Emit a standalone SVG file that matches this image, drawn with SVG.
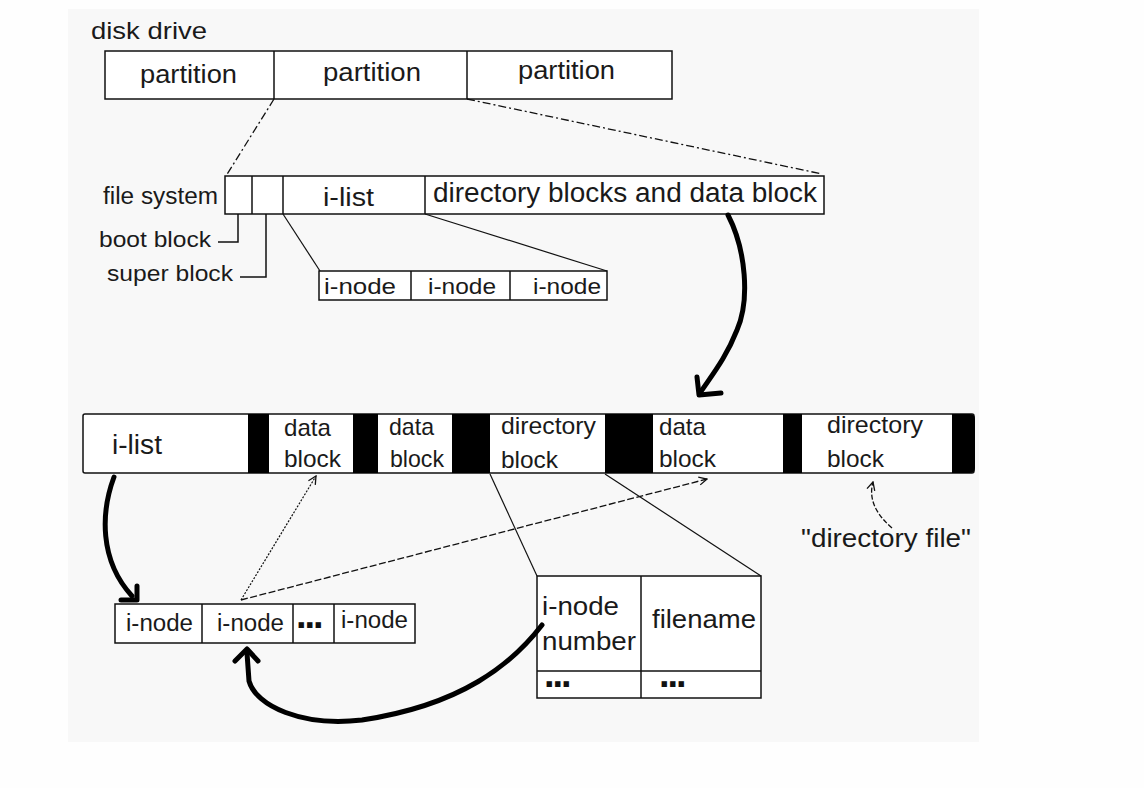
<svg xmlns="http://www.w3.org/2000/svg" width="1144" height="788" viewBox="0 0 1144 788">
<defs>
<style>
.box{fill:#fff;stroke:#111;stroke-width:1.5}
.div{stroke:#111;stroke-width:1.5;fill:none}
.blk{fill:#000;stroke:none}
.t{font-family:"Liberation Sans",Arial,Helvetica,sans-serif;fill:#1a1a1a}
.dots{font-family:"Liberation Sans",Arial,sans-serif;font-weight:bold;font-size:38px;letter-spacing:-2px;fill:#111}
.dash{stroke:#111;stroke-width:1.3;fill:none;stroke-dasharray:8 3 2 3}
.thin{stroke:#111;stroke-width:1.2;fill:none}
.dot{stroke:#111;stroke-width:1.2;fill:none;stroke-dasharray:2 1.5}
.dsh{stroke:#111;stroke-width:1.3;fill:none;stroke-dasharray:7 2.5}
.thick{stroke:#000;stroke-width:5;fill:none;stroke-linecap:round;stroke-linejoin:round}
</style>
<marker id="open" viewBox="0 0 10 10" refX="9" refY="5" markerWidth="10" markerHeight="10" markerUnits="userSpaceOnUse" orient="auto">
<path d="M1,1 L9,5 L1,9" fill="none" stroke="#111" stroke-width="1.3"/>
</marker>
</defs>
<rect x="0" y="0" width="1144" height="788" fill="#fefefe"/>
<rect x="68" y="9" width="911" height="733" fill="#f8f8f8"/>

<g id="disk-drive">
<text class="t" x="91" y="39" font-size="24" textLength="116" lengthAdjust="spacingAndGlyphs">disk drive</text>
<rect class="box" x="105" y="51" width="567" height="48"/>
<line class="div" x1="274" y1="51" x2="274" y2="99"/>
<line class="div" x1="467" y1="51" x2="467" y2="99"/>
<text class="t" x="140" y="83" font-size="25" textLength="97" lengthAdjust="spacingAndGlyphs">partition</text>
<text class="t" x="323" y="81" font-size="25" textLength="98" lengthAdjust="spacingAndGlyphs">partition</text>
<text class="t" x="518" y="79" font-size="25" textLength="97" lengthAdjust="spacingAndGlyphs">partition</text>
</g>

<g id="file-system">
<text class="t" x="103" y="204" font-size="23" textLength="115" lengthAdjust="spacingAndGlyphs">file system</text>
<rect class="box" x="225" y="176" width="599" height="38"/>
<line class="div" x1="252" y1="176" x2="252" y2="214"/>
<line class="div" x1="283" y1="176" x2="283" y2="214"/>
<line class="div" x1="425" y1="176" x2="425" y2="214"/>
<text class="t" x="323" y="206" font-size="25" textLength="51" lengthAdjust="spacingAndGlyphs">i-list</text>
<text class="t" x="433" y="202" font-size="27" textLength="384" lengthAdjust="spacingAndGlyphs">directory blocks and data block</text>
</g>

<g id="boot-block">
<text class="t" x="99" y="247" font-size="22.5" textLength="112" lengthAdjust="spacingAndGlyphs">boot block</text>
</g>
<g id="super-block">
<text class="t" x="107" y="281" font-size="22.5" textLength="126" lengthAdjust="spacingAndGlyphs">super block</text>
</g>

<g id="i-node-list">
<rect class="box" x="319" y="271" width="288" height="29"/>
<line class="div" x1="411" y1="271" x2="411" y2="300"/>
<line class="div" x1="510" y1="271" x2="510" y2="300"/>
<text class="t" x="324" y="294" font-size="22" textLength="72" lengthAdjust="spacingAndGlyphs">i-node</text>
<text class="t" x="428" y="294" font-size="22" textLength="68" lengthAdjust="spacingAndGlyphs">i-node</text>
<text class="t" x="533" y="294" font-size="22" textLength="68" lengthAdjust="spacingAndGlyphs">i-node</text>
</g>

<g id="disk-layout">
<rect x="83" y="414" width="891" height="59" rx="2" fill="#fff" stroke="#111" stroke-width="1.5"/>
<rect class="blk" x="248" y="414" width="21" height="59"/>
<rect class="blk" x="353" y="414" width="25" height="59"/>
<rect class="blk" x="452" y="414" width="38" height="59"/>
<rect class="blk" x="605" y="414" width="48" height="59"/>
<rect class="blk" x="783" y="414" width="19" height="59"/>
<path class="blk" d="M952,414 H970 Q975,414 975,419 V468 Q975,473 970,473 H952 Z"/>
<text class="t" x="112" y="454" font-size="27" textLength="50" lengthAdjust="spacingAndGlyphs">i-list</text>
<text class="t" x="284" y="436" font-size="24" textLength="47" lengthAdjust="spacingAndGlyphs">data</text>
<text class="t" x="284" y="467" font-size="24" textLength="57" lengthAdjust="spacingAndGlyphs">block</text>
<text class="t" x="389" y="435" font-size="24" textLength="45" lengthAdjust="spacingAndGlyphs">data</text>
<text class="t" x="390" y="467" font-size="24" textLength="54" lengthAdjust="spacingAndGlyphs">block</text>
<text class="t" x="501" y="434" font-size="24" textLength="95" lengthAdjust="spacingAndGlyphs">directory</text>
<text class="t" x="501" y="468" font-size="24" textLength="57" lengthAdjust="spacingAndGlyphs">block</text>
<text class="t" x="659" y="435" font-size="24" textLength="47" lengthAdjust="spacingAndGlyphs">data</text>
<text class="t" x="659" y="467" font-size="24" textLength="57" lengthAdjust="spacingAndGlyphs">block</text>
<text class="t" x="827" y="433" font-size="24" textLength="96" lengthAdjust="spacingAndGlyphs">directory</text>
<text class="t" x="827" y="467" font-size="24" textLength="57" lengthAdjust="spacingAndGlyphs">block</text>
</g>

<g id="directory-file-label">
<text class="t" x="801" y="547" font-size="25" textLength="170" lengthAdjust="spacingAndGlyphs">"directory file"</text>
</g>

<g id="i-node-table">
<rect class="box" x="115" y="604" width="300" height="39"/>
<line class="div" x1="202" y1="604" x2="202" y2="643"/>
<line class="div" x1="293" y1="604" x2="293" y2="643"/>
<line class="div" x1="334" y1="604" x2="334" y2="643"/>
<text class="t" x="126" y="631" font-size="23" textLength="67" lengthAdjust="spacingAndGlyphs">i-node</text>
<text class="t" x="217" y="631" font-size="23" textLength="67" lengthAdjust="spacingAndGlyphs">i-node</text>
<text class="dots" x="296" y="628">...</text>
<text class="t" x="341" y="628" font-size="23" textLength="67" lengthAdjust="spacingAndGlyphs">i-node</text>
</g>

<g id="directory-entry">
<rect class="box" x="537" y="576" width="224" height="122"/>
<line class="div" x1="641" y1="576" x2="641" y2="698"/>
<line class="div" x1="537" y1="671" x2="761" y2="671"/>
<text class="t" x="542" y="615" font-size="25" textLength="77" lengthAdjust="spacingAndGlyphs">i-node</text>
<text class="t" x="542" y="650" font-size="25" textLength="94" lengthAdjust="spacingAndGlyphs">number</text>
<text class="t" x="652" y="628" font-size="25" textLength="104" lengthAdjust="spacingAndGlyphs">filename</text>
<text class="dots" x="544" y="687">...</text>
<text class="dots" x="659" y="687">...</text>
</g>

<g id="connectors">
<line class="dash" x1="274" y1="99" x2="226" y2="176"/>
<line class="dash" x1="467" y1="99" x2="822" y2="174"/>
<path class="div" d="M218,242 H238 V214"/>
<path class="div" d="M240,277 H266 V214"/>
<line class="thin" x1="283" y1="214" x2="320" y2="271"/>
<line class="thin" x1="425" y1="214" x2="607" y2="271"/>
<path class="thick" d="M728,215 C746,250 750,300 737,330 C726,358 712,375 700,393"/>
<path class="thick" d="M697,377 L699,395 L721,393"/>
<path class="thick" d="M114,477 C101,512 99,560 132,596"/>
<path class="thick" d="M137,586 L137,600 L121,600"/>
<path class="thick" d="M542,625 C512,664 462,705 362,720 C302,727 256,706 249,681 L247,653"/>
<path class="thick" d="M235,661 L247,649 L258,661"/>
<line class="dot" x1="241" y1="600" x2="316" y2="476" marker-end="url(#open)"/>
<line class="dsh" x1="241" y1="600" x2="707" y2="479" marker-end="url(#open)"/>
<line class="thin" x1="490" y1="474" x2="537" y2="576"/>
<line class="thin" x1="605" y1="474" x2="761" y2="576"/>
<path class="dsh" d="M892,528 C877,515 868,500 873,482" style="stroke-dasharray:5 2" marker-end="url(#open)"/>
</g>
</svg>
